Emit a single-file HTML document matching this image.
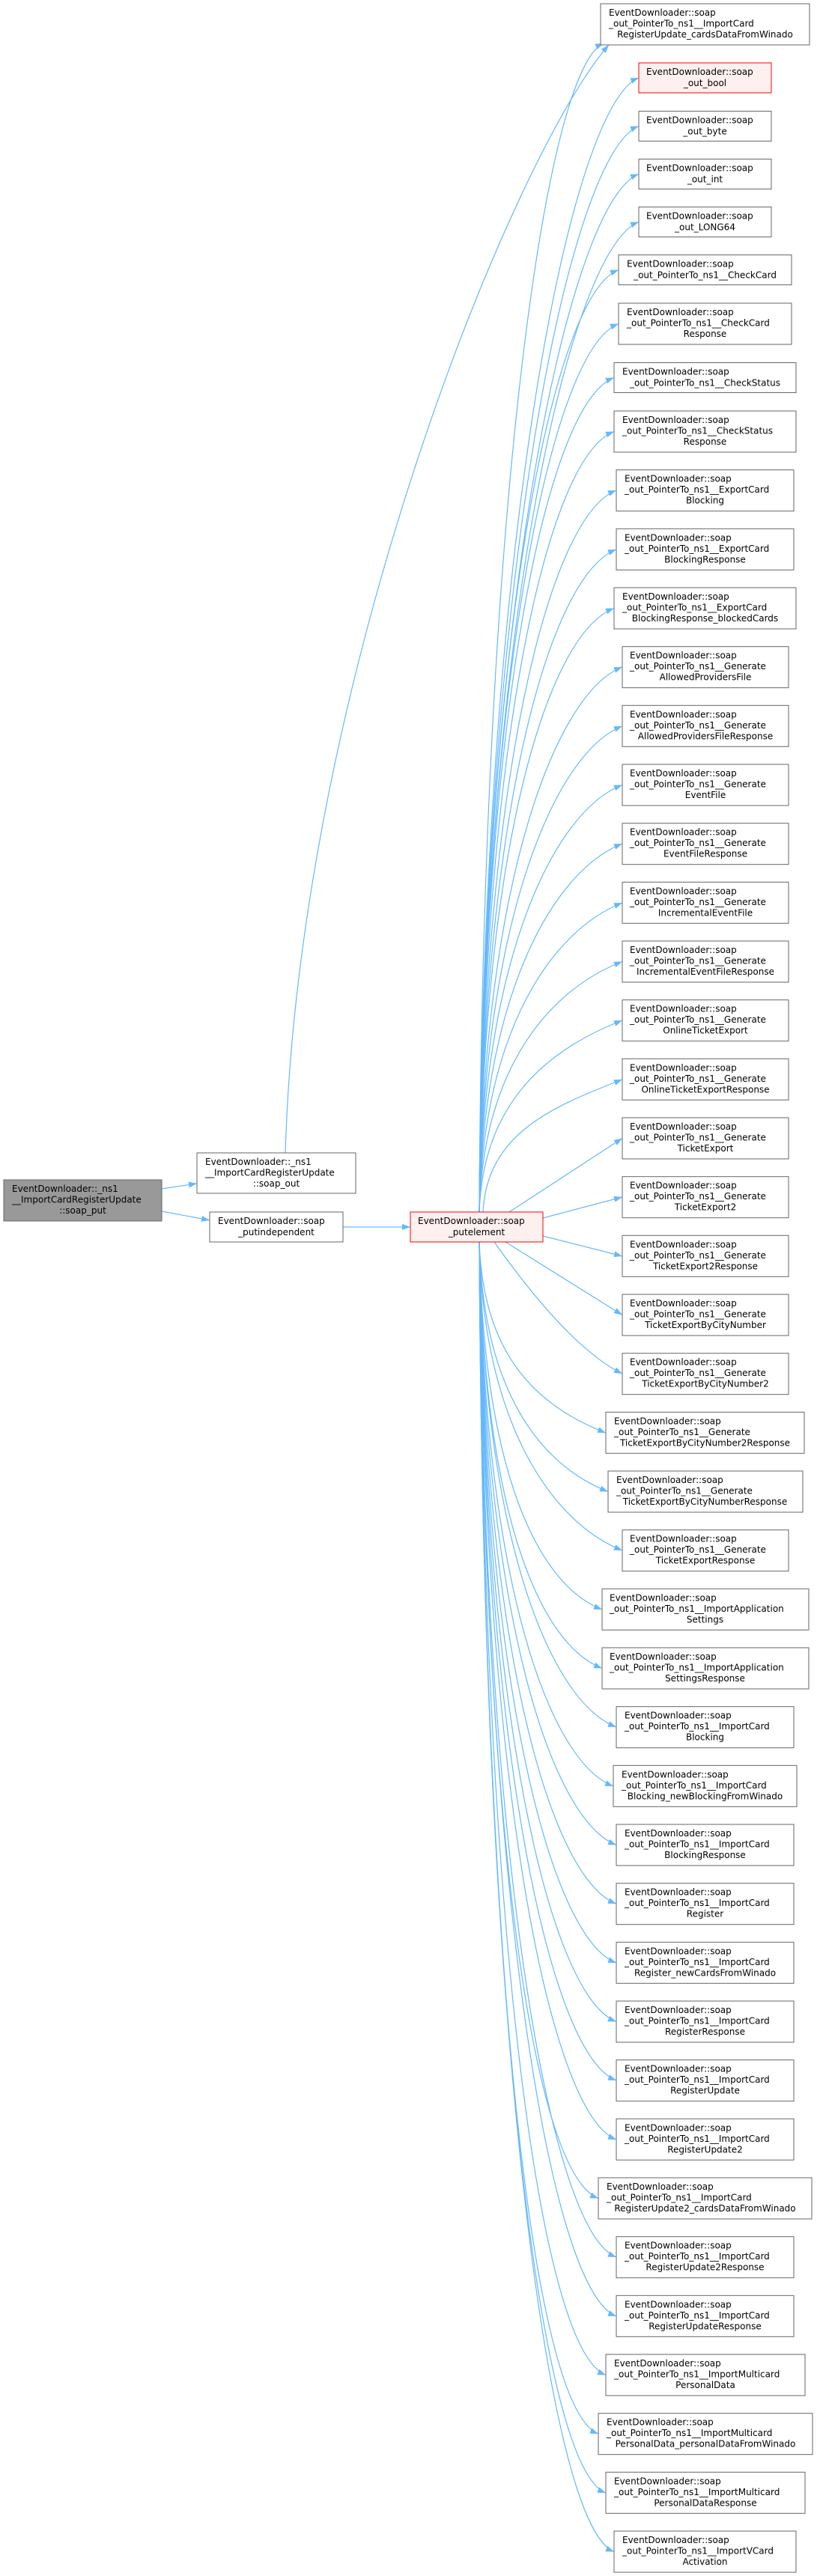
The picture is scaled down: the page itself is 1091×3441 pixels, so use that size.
<!DOCTYPE html>
<html><head><meta charset="utf-8"><style>
html,body{margin:0;padding:0;background:#fff;}
svg{display:block;}
text{font-family:"DejaVu Sans","Liberation Sans",sans-serif;font-size:12px;fill:#000;}
.b{fill:#fff;stroke:#666;stroke-width:1;}
.r{fill:#fff0f0;stroke:#f00;stroke-width:1;}
.g{fill:#999;stroke:#666;stroke-width:1;}
.e{fill:none;stroke:#63b8ff;stroke-width:1.2;marker-end:url(#a);}
.c{text-anchor:middle;}
</style></head><body>
<svg width="1091" height="3441" viewBox="0 0 1091 3441" xmlns="http://www.w3.org/2000/svg">
<defs><marker id="a" markerWidth="11" markerHeight="8" refX="11" refY="4" orient="auto" markerUnits="userSpaceOnUse"><path d="M0,0 L11,4 L0,8z" fill="#63b8ff"/></marker></defs>

<!-- edges -->
<path class="e" d="M216,1588 L263,1581"/>
<path class="e" d="M216,1618 L280,1630"/>
<path class="e" d="M458,1639 L548,1639"/>
<path class="e" d="M381,1540 C400,900 690,200 813,60"/>

<path class="e" d="M640,1619 C645,667 730,90 806,58"/>
<path class="e" d="M640,1619 C645,710 763,139 853,104"/>
<path class="e" d="M640,1619 C645,749 763,203 853,168.5"/>
<path class="e" d="M640,1619 C645,787 763,267 853,232.5"/>
<path class="e" d="M640,1619 C645,825 763,331 853,296.5"/>
<path class="e" d="M640,1619 C645,864 736,395 826,360.5"/>
<path class="e" d="M640,1619 C645,907 736,467 826,432.5"/>
<path class="e" d="M640,1619 C645,950 730,539 820,504.5"/>
<path class="e" d="M640,1619 C645,993 730,611 820,576.5"/>
<path class="e" d="M640,1619 C645,1040 733,690 823,655"/>
<path class="e" d="M640,1619 C645,1088 733,769 823,734"/>
<path class="e" d="M640,1619 C645,1135 730,847 820,812.5"/>
<path class="e" d="M640,1619 C645,1182 741,926 831,891"/>
<path class="e" d="M640,1619 C645,1230 741,1005 831,970"/>
<path class="e" d="M640,1619 C645,1277 741,1083 831,1048.5"/>
<path class="e" d="M640,1619 C645,1324 741,1162 831,1127"/>
<path class="e" d="M640,1619 C645,1371 741,1241 831,1206"/>
<path class="e" d="M640,1619 C645,1418 741,1319 831,1284.5"/>
<path class="e" d="M640,1619 C645,1465 741,1398 831,1363"/>
<path class="e" d="M645,1619 C650,1513 741,1477 831,1442"/>
<path class="e" d="M680,1619 L831,1520.5"/>
<path class="e" d="M725,1627 L831,1599"/>
<path class="e" d="M725,1651 L831,1678"/>
<path class="e" d="M675,1659 L831,1756.5"/>
<path class="e" d="M660,1659 Q760,1800 831,1835"/>
<path class="e" d="M640,1659 C645,1812 719,1879 809,1914"/>
<path class="e" d="M640,1659 C645,1859 722,1957 812,1992.5"/>
<path class="e" d="M640,1659 C645,1906 741,2036 831,2071"/>
<path class="e" d="M640,1659 C645,1954 714,2115 804,2150"/>
<path class="e" d="M640,1659 C645,2001 714,2193 804,2228.5"/>
<path class="e" d="M640,1659 C645,2048 733,2272 823,2307"/>
<path class="e" d="M640,1659 C645,2095 729,2351 819,2386"/>
<path class="e" d="M640,1659 C645,2142 733,2429 823,2464.5"/>
<path class="e" d="M640,1659 C645,2189 733,2508 823,2543"/>
<path class="e" d="M640,1659 C645,2237 733,2587 823,2622"/>
<path class="e" d="M640,1659 C645,2284 733,2665 823,2700.5"/>
<path class="e" d="M640,1659 C645,2331 733,2744 823,2779"/>
<path class="e" d="M640,1659 C645,2378 733,2823 823,2858"/>
<path class="e" d="M640,1659 C645,2425 709,2901 799,2936.5"/>
<path class="e" d="M640,1659 C645,2473 733,2980 823,3015"/>
<path class="e" d="M640,1659 C645,2520 733,3059 823,3094"/>
<path class="e" d="M640,1659 C645,2567 719,3137 809,3172.5"/>
<path class="e" d="M640,1659 C645,2614 709,3216 799,3251"/>
<path class="e" d="M640,1659 C645,2662 719,3295 809,3330"/>
<path class="e" d="M640,1659 C645,2708 730,3373 820,3408.5"/>

<!-- left nodes -->
<rect class="g" x="5" y="1576" width="211" height="55"/>
<text x="16" y="1592">EventDownloader::_ns1</text>
<text x="16" y="1606.5">__ImportCardRegisterUpdate</text>
<text class="c" x="110.5" y="1621">::soap_put</text>

<rect class="b" x="263" y="1540" width="212" height="54"/>
<text x="274" y="1556">EventDownloader::_ns1</text>
<text x="274" y="1570.5">__ImportCardRegisterUpdate</text>
<text class="c" x="369" y="1585">::soap_out</text>

<rect class="b" x="280" y="1619" width="178" height="40"/>
<text x="291" y="1635">EventDownloader::soap</text>
<text class="c" x="369" y="1650">_putindependent</text>

<rect class="r" x="548" y="1619" width="177" height="40"/>
<text x="558" y="1635">EventDownloader::soap</text>
<text class="c" x="636.5" y="1650">_putelement</text>

<!-- right nodes -->
<rect class="b" x="802" y="5" width="279" height="55"/>
<text x="813" y="21">EventDownloader::soap</text><text x="813" y="35.5">_out_PointerTo_ns1__ImportCard</text><text class="c" x="941.5" y="50">RegisterUpdate_cardsDataFromWinado</text>

<rect class="r" x="853" y="84" width="177" height="40"/>
<text x="863" y="100">EventDownloader::soap</text><text class="c" x="941.5" y="115">_out_bool</text>
<rect class="b" x="853" y="148.5" width="177" height="40"/>
<text x="863" y="164.5">EventDownloader::soap</text><text class="c" x="941.5" y="179.5">_out_byte</text>
<rect class="b" x="853" y="212.5" width="177" height="40"/>
<text x="863" y="228.5">EventDownloader::soap</text><text class="c" x="941.5" y="243.5">_out_int</text>
<rect class="b" x="853" y="276.5" width="177" height="40"/>
<text x="863" y="292.5">EventDownloader::soap</text><text class="c" x="941.5" y="307.5">_out_LONG64</text>
<rect class="b" x="826" y="340.5" width="231" height="40"/>
<text x="837" y="356.5">EventDownloader::soap</text><text class="c" x="941.5" y="371.5">_out_PointerTo_ns1__CheckCard</text>
<rect class="b" x="826" y="405" width="231" height="55"/>
<text x="837" y="421">EventDownloader::soap</text><text x="837" y="435.5">_out_PointerTo_ns1__CheckCard</text><text class="c" x="941.5" y="450">Response</text>
<rect class="b" x="820" y="484.5" width="243" height="40"/>
<text x="831" y="500.5">EventDownloader::soap</text><text class="c" x="941.5" y="515.5">_out_PointerTo_ns1__CheckStatus</text>
<rect class="b" x="820" y="549" width="243" height="55"/>
<text x="831" y="565">EventDownloader::soap</text><text x="831" y="579.5">_out_PointerTo_ns1__CheckStatus</text><text class="c" x="941.5" y="594">Response</text>

<rect class="b" x="823" y="627.7" width="237" height="55"/>
<text x="834" y="643.7">EventDownloader::soap</text><text x="834" y="658.2">_out_PointerTo_ns1__ExportCard</text><text class="c" x="941.5" y="672.7">Blocking</text>
<rect class="b" x="823" y="706.3" width="237" height="55"/>
<text x="834" y="722.3">EventDownloader::soap</text><text x="834" y="736.8">_out_PointerTo_ns1__ExportCard</text><text class="c" x="941.5" y="751.3">BlockingResponse</text>
<rect class="b" x="820" y="785" width="243" height="55"/>
<text x="831" y="801">EventDownloader::soap</text><text x="831" y="815.5">_out_PointerTo_ns1__ExportCard</text><text class="c" x="941.5" y="830">BlockingResponse_blockedCards</text>

<rect class="b" x="831" y="863.7" width="222" height="55"/>
<text x="841" y="879.7">EventDownloader::soap</text><text x="841" y="894.2">_out_PointerTo_ns1__Generate</text><text class="c" x="942" y="908.7">AllowedProvidersFile</text>
<rect class="b" x="831" y="942.3" width="222" height="55"/>
<text x="841" y="958.3">EventDownloader::soap</text><text x="841" y="972.8">_out_PointerTo_ns1__Generate</text><text class="c" x="942" y="987.3">AllowedProvidersFileResponse</text>
<rect class="b" x="831" y="1021" width="222" height="55"/>
<text x="841" y="1037">EventDownloader::soap</text><text x="841" y="1051.5">_out_PointerTo_ns1__Generate</text><text class="c" x="942" y="1066">EventFile</text>
<rect class="b" x="831" y="1099.7" width="222" height="55"/>
<text x="841" y="1115.7">EventDownloader::soap</text><text x="841" y="1130.2">_out_PointerTo_ns1__Generate</text><text class="c" x="942" y="1144.7">EventFileResponse</text>
<rect class="b" x="831" y="1178.3" width="222" height="55"/>
<text x="841" y="1194.3">EventDownloader::soap</text><text x="841" y="1208.8">_out_PointerTo_ns1__Generate</text><text class="c" x="942" y="1223.3">IncrementalEventFile</text>
<rect class="b" x="831" y="1257" width="222" height="55"/>
<text x="841" y="1273">EventDownloader::soap</text><text x="841" y="1287.5">_out_PointerTo_ns1__Generate</text><text class="c" x="942" y="1302">IncrementalEventFileResponse</text>
<rect class="b" x="831" y="1335.7" width="222" height="55"/>
<text x="841" y="1351.7">EventDownloader::soap</text><text x="841" y="1366.2">_out_PointerTo_ns1__Generate</text><text class="c" x="942" y="1380.7">OnlineTicketExport</text>
<rect class="b" x="831" y="1414.3" width="222" height="55"/>
<text x="841" y="1430.3">EventDownloader::soap</text><text x="841" y="1444.8">_out_PointerTo_ns1__Generate</text><text class="c" x="942" y="1459.3">OnlineTicketExportResponse</text>
<rect class="b" x="831" y="1493" width="222" height="55"/>
<text x="841" y="1509">EventDownloader::soap</text><text x="841" y="1523.5">_out_PointerTo_ns1__Generate</text><text class="c" x="942" y="1538">TicketExport</text>
<rect class="b" x="831" y="1571.7" width="222" height="55"/>
<text x="841" y="1587.7">EventDownloader::soap</text><text x="841" y="1602.2">_out_PointerTo_ns1__Generate</text><text class="c" x="942" y="1616.7">TicketExport2</text>
<rect class="b" x="831" y="1650.3" width="222" height="55"/>
<text x="841" y="1666.3">EventDownloader::soap</text><text x="841" y="1680.8">_out_PointerTo_ns1__Generate</text><text class="c" x="942" y="1695.3">TicketExport2Response</text>
<rect class="b" x="831" y="1729" width="222" height="55"/>
<text x="841" y="1745">EventDownloader::soap</text><text x="841" y="1759.5">_out_PointerTo_ns1__Generate</text><text class="c" x="942" y="1774">TicketExportByCityNumber</text>
<rect class="b" x="831" y="1807.7" width="222" height="55"/>
<text x="841" y="1823.7">EventDownloader::soap</text><text x="841" y="1838.2">_out_PointerTo_ns1__Generate</text><text class="c" x="942" y="1852.7">TicketExportByCityNumber2</text>
<rect class="b" x="809" y="1886.3" width="265" height="55"/>
<text x="820" y="1902.3">EventDownloader::soap</text><text x="820" y="1916.8">_out_PointerTo_ns1__Generate</text><text class="c" x="941.5" y="1931.3">TicketExportByCityNumber2Response</text>
<rect class="b" x="812" y="1965" width="260" height="55"/>
<text x="823" y="1981">EventDownloader::soap</text><text x="823" y="1995.5">_out_PointerTo_ns1__Generate</text><text class="c" x="941.5" y="2010">TicketExportByCityNumberResponse</text>
<rect class="b" x="831" y="2043.7" width="222" height="55"/>
<text x="841" y="2059.7">EventDownloader::soap</text><text x="841" y="2074.2">_out_PointerTo_ns1__Generate</text><text class="c" x="942" y="2088.7">TicketExportResponse</text>

<rect class="b" x="804" y="2122.3" width="276" height="55"/>
<text x="814" y="2138.3">EventDownloader::soap</text><text x="814" y="2152.8">_out_PointerTo_ns1__ImportApplication</text><text class="c" x="941.5" y="2167.3">Settings</text>
<rect class="b" x="804" y="2201" width="276" height="55"/>
<text x="814" y="2217">EventDownloader::soap</text><text x="814" y="2231.5">_out_PointerTo_ns1__ImportApplication</text><text class="c" x="941.5" y="2246">SettingsResponse</text>

<rect class="b" x="823" y="2279.7" width="237" height="55"/>
<text x="834" y="2295.7">EventDownloader::soap</text><text x="834" y="2310.2">_out_PointerTo_ns1__ImportCard</text><text class="c" x="941.5" y="2324.7">Blocking</text>
<rect class="b" x="819" y="2358.3" width="245" height="55"/>
<text x="830" y="2374.3">EventDownloader::soap</text><text x="830" y="2388.8">_out_PointerTo_ns1__ImportCard</text><text class="c" x="941.5" y="2403.3">Blocking_newBlockingFromWinado</text>
<rect class="b" x="823" y="2437" width="237" height="55"/>
<text x="834" y="2453">EventDownloader::soap</text><text x="834" y="2467.5">_out_PointerTo_ns1__ImportCard</text><text class="c" x="941.5" y="2482">BlockingResponse</text>
<rect class="b" x="823" y="2515.7" width="237" height="55"/>
<text x="834" y="2531.7">EventDownloader::soap</text><text x="834" y="2546.2">_out_PointerTo_ns1__ImportCard</text><text class="c" x="941.5" y="2560.7">Register</text>
<rect class="b" x="823" y="2594.3" width="237" height="55"/>
<text x="834" y="2610.3">EventDownloader::soap</text><text x="834" y="2624.8">_out_PointerTo_ns1__ImportCard</text><text class="c" x="941.5" y="2639.3">Register_newCardsFromWinado</text>
<rect class="b" x="823" y="2673" width="237" height="55"/>
<text x="834" y="2689">EventDownloader::soap</text><text x="834" y="2703.5">_out_PointerTo_ns1__ImportCard</text><text class="c" x="941.5" y="2718">RegisterResponse</text>
<rect class="b" x="823" y="2751.7" width="237" height="55"/>
<text x="834" y="2767.7">EventDownloader::soap</text><text x="834" y="2782.2">_out_PointerTo_ns1__ImportCard</text><text class="c" x="941.5" y="2796.7">RegisterUpdate</text>
<rect class="b" x="823" y="2830.3" width="237" height="55"/>
<text x="834" y="2846.3">EventDownloader::soap</text><text x="834" y="2860.8">_out_PointerTo_ns1__ImportCard</text><text class="c" x="941.5" y="2875.3">RegisterUpdate2</text>
<rect class="b" x="799" y="2909" width="285" height="55"/>
<text x="810" y="2925">EventDownloader::soap</text><text x="810" y="2939.5">_out_PointerTo_ns1__ImportCard</text><text class="c" x="941.5" y="2954">RegisterUpdate2_cardsDataFromWinado</text>
<rect class="b" x="823" y="2987.7" width="237" height="55"/>
<text x="834" y="3003.7">EventDownloader::soap</text><text x="834" y="3018.2">_out_PointerTo_ns1__ImportCard</text><text class="c" x="941.5" y="3032.7">RegisterUpdate2Response</text>
<rect class="b" x="823" y="3066.3" width="237" height="55"/>
<text x="834" y="3082.3">EventDownloader::soap</text><text x="834" y="3096.8">_out_PointerTo_ns1__ImportCard</text><text class="c" x="941.5" y="3111.3">RegisterUpdateResponse</text>

<rect class="b" x="809" y="3145" width="266" height="55"/>
<text x="820" y="3161">EventDownloader::soap</text><text x="820" y="3175.5">_out_PointerTo_ns1__ImportMulticard</text><text class="c" x="942" y="3190">PersonalData</text>
<rect class="b" x="799" y="3223.7" width="286" height="55"/>
<text x="810" y="3239.7">EventDownloader::soap</text><text x="810" y="3254.2">_out_PointerTo_ns1__ImportMulticard</text><text class="c" x="942" y="3268.7">PersonalData_personalDataFromWinado</text>
<rect class="b" x="809" y="3302.3" width="266" height="55"/>
<text x="820" y="3318.3">EventDownloader::soap</text><text x="820" y="3332.8">_out_PointerTo_ns1__ImportMulticard</text><text class="c" x="942" y="3347.3">PersonalDataResponse</text>
<rect class="b" x="820" y="3381" width="243" height="55"/>
<text x="831" y="3397">EventDownloader::soap</text><text x="831" y="3411.5">_out_PointerTo_ns1__ImportVCard</text><text class="c" x="941.5" y="3426">Activation</text>
</svg>
</body></html>
